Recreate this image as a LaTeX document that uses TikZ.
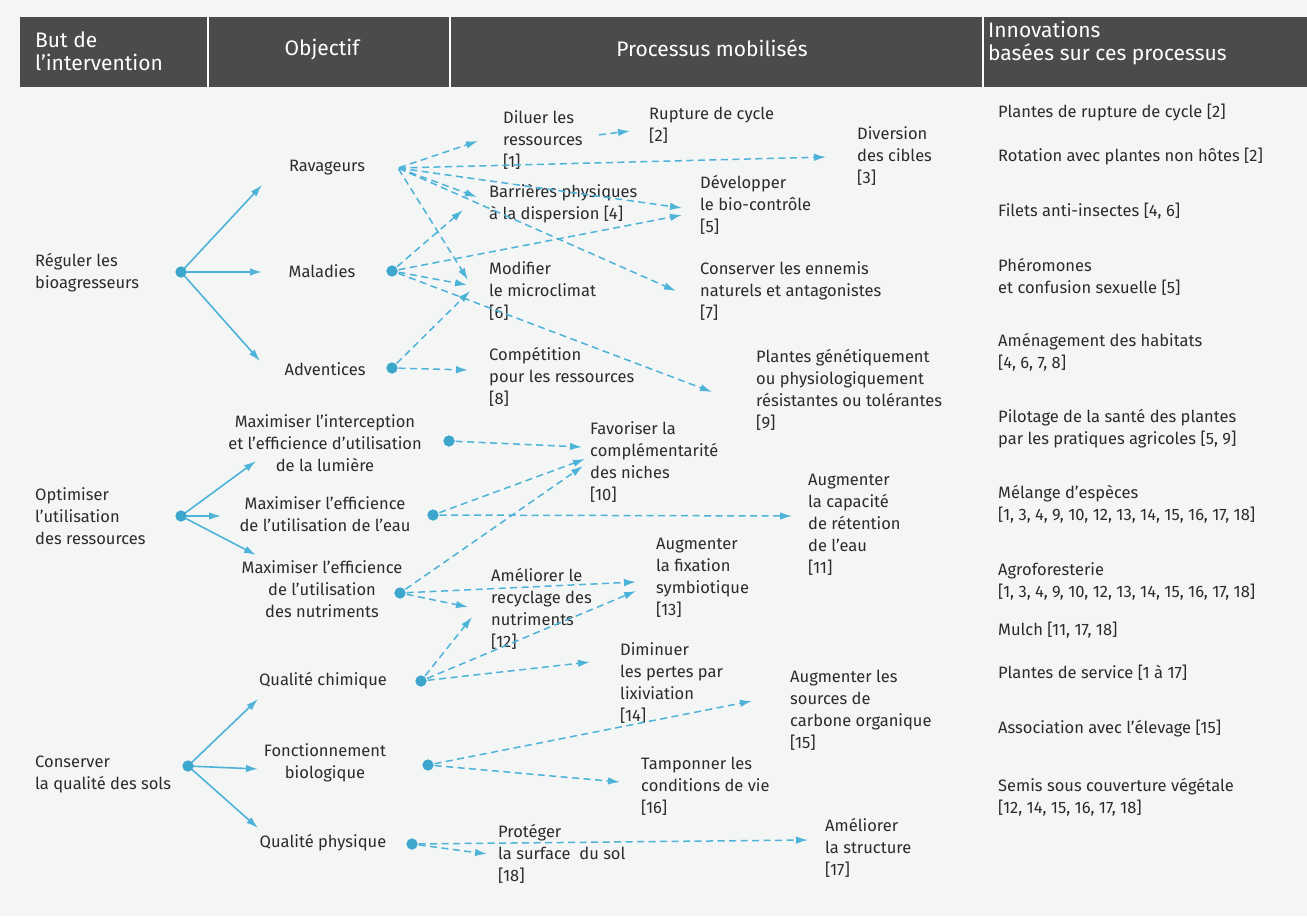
\documentclass[tikz,border=0pt]{standalone}
\usepackage{fontspec}
\setmainfont{Fira Sans}
\usetikzlibrary{arrows.meta}
\definecolor{paper}{HTML}{F4F5F5}
\definecolor{band}{HTML}{4B4B49}
\definecolor{ink}{HTML}{2B2B2B}
\definecolor{flow}{HTML}{4DB3D8}
\definecolor{hub}{HTML}{3CA6CC}
\tikzset{
  txt/.style={text=ink, inner sep=0pt, font=\fontsize{16.5}{22}\selectfont},
  lft/.style={txt, anchor=west, align=left},
  ctr/.style={txt, anchor=center, align=center},
  hd/.style={text=white, inner sep=0pt, font=\fontsize{21}{23}\selectfont},
  hub/.style={circle, fill=hub, minimum size=11pt, inner sep=0pt},
  sol/.style={draw=flow, line width=1.6pt, -{Latex[length=12pt,width=7.5pt]}},
  dsh/.style={draw=flow, line width=1.5pt, dash pattern=on 7pt off 4.5pt,
              -{Latex[length=12pt,width=7.5pt]}, shorten <=1pt},
}
\begin{document}
\begin{tikzpicture}[x=1pt,y=-1pt]
\useasboundingbox (0,0) rectangle (1307,916);
\fill[paper] (0,0) rectangle (1307,916);

% header band with column separators
\fill[band] (20,17) rectangle (1307,87);
\foreach \sx in {208,450,983} \fill[white] (\sx-1,17) rectangle (\sx+1,87);
\node[hd, anchor=west, align=left] (h1) at (35,51) {But de\\l’intervention};
\node[hd] (h2) at (322,50) {Objectif};
\node[hd] (h3) at (712,48) {Processus mobilisés};
\node[hd, anchor=west, align=left] (h4) at (988,43) {Innovations\\basées sur ces processus};

% column 1 : aims
\node[lft] (reg) at (35,273) {Réguler les\\bioagresseurs};
\node[lft] (opt) at (35,516) {Optimiser\\l’utilisation\\des ressources};
\node[lft] (cons) at (35,774) {Conserver\\la qualité des sols};

% column 2 : objectives
\node[ctr] (rav) at (327,168) {Ravageurs};
\node[ctr] (mal) at (322,271) {Maladies};
\node[ctr] (adv) at (325,369) {Adventices};
\node[ctr] (lum) at (325,443) {Maximiser l’interception\\et l’efficience d’utilisation\\de la lumière};
\node[ctr] (eau) at (325,514) {Maximiser l’efficience\\de l’utilisation de l’eau};
\node[ctr] (nut) at (322,589) {Maximiser l’efficience\\de l’utilisation\\des nutriments};
\node[ctr] (chim) at (323,681) {Qualité chimique};
\node[ctr] (bio) at (325,763) {Fonctionnement\\biologique};
\node[ctr] (phys) at (323,843) {Qualité physique};

% column 3 : processes
\node[lft] (dil) at (503,140) {Diluer les\\ressources\\{[1]}};
\node[lft] (rup) at (649,125) {Rupture de cycle\\{[2]}};
\node[lft] (div) at (857,156) {Diversion\\des cibles\\{[3]}};
\node[lft] (bar) at (489,204) {Barrières physiques\\à la dispersion [4]};
\node[lft] (dev) at (700,205) {Développer\\le bio-contrôle\\{[5]}};
\node[lft] (mod) at (489,291) {Modifier\\le microclimat\\{[6]}};
\node[lft] (ene) at (700,291) {Conserver les ennemis\\naturels et antagonistes\\{[7]}};
\node[lft] (comp) at (489,377) {Compétition\\pour les ressources\\{[8]}};
\node[lft] (pgen) at (756,390) {Plantes génétiquement\\ou physiologiquement\\résistantes ou tolérantes\\{[9]}};
\node[lft] (fav) at (590,462) {Favoriser la\\complémentarité\\des niches\\{[10]}};
\node[lft] (cap) at (808,525) {Augmenter\\la capacité\\de rétention\\de l’eau\\{[11]}};
\node[lft] (fix) at (656,578) {Augmenter\\la fixation\\symbiotique\\{[13]}};
\node[lft] (rec) at (491,609) {Améliorer le\\recyclage des\\nutriments\\{[12]}};
\node[lft] (dim) at (620,683) {Diminuer\\les pertes par\\lixiviation\\{[14]}};
\node[lft] (carb) at (790,710) {Augmenter les\\sources de\\carbone organique\\{[15]}};
\node[lft] (tamp) at (641,786) {Tamponner les\\conditions de vie\\{[16]}};
\node[lft] (prot) at (498,854) {Protéger\\la surface~ du sol\\{[18]}};
\node[lft] (struc) at (825,848) {Améliorer\\la structure\\{[17]}};

% column 4 : innovations
\node[lft] (i1) at (998,113) {Plantes de rupture de cycle [2]};
\node[lft] (i2) at (998,157) {Rotation avec plantes non hôtes [2]};
\node[lft] (i3) at (998,211) {Filets anti-insectes [4, 6]};
\node[lft] (i4) at (998,277) {Phéromones\\et confusion sexuelle [5]};
\node[lft] (i5) at (998,352) {Aménagement des habitats\\{[4, 6, 7, 8]}};
\node[lft] (i6) at (998,429) {Pilotage de la santé des plantes\\par les pratiques agricoles [5, 9]};
\node[lft] (i7) at (998,504) {Mélange d’espèces\\{[1, 3, 4, 9, 10, 12, 13, 14, 15, 16, 17, 18]}};
\node[lft] (i8) at (998,581) {Agroforesterie\\{[1, 3, 4, 9, 10, 12, 13, 14, 15, 16, 17, 18]}};
\node[lft] (i9) at (998,630) {Mulch [11, 17, 18]};
\node[lft] (i10) at (998,673) {Plantes de service [1 à 17]};
\node[lft] (i11) at (998,729) {Association avec l’élevage [15]};
\node[lft] (i12) at (998,797) {Semis sous couverture végétale\\{[12, 14, 15, 16, 17, 18]}};

% branching points
\node[hub] (hreg) at (181,272) {};
\node[hub] (hopt) at (181,516) {};
\node[hub] (hcons) at (188,766) {};
\coordinate (hrav) at (398,168);
\node[hub] (hmal) at (392,271) {};
\node[hub] (hadv) at (392,368) {};
\node[hub] (hlum) at (449,441) {};
\node[hub] (heau) at (433,515) {};
\node[hub] (hnut) at (400,593) {};
\node[hub] (hchim) at (421,681) {};
\node[hub] (hbio) at (428,765) {};
\node[hub] (hphys) at (412,844) {};

% arrow ends next to each objective / process
\coordinate (rav-in) at (262,185);
\coordinate (mal-in) at (262,272);
\coordinate (adv-in) at (260,361);
\coordinate (lum-in) at (256,461);
\coordinate (eau-in) at (221,516);
\coordinate (nut-in) at (256,555);
\coordinate (chim-in) at (258,699);
\coordinate (bio-in) at (258,769);
\coordinate (phys-in) at (258,828);

\coordinate (dil-in) at (478,141);
\coordinate (dil-out) at (598,135);
\coordinate (rup-in) at (630,131);
\coordinate (div-in) at (826,157);
\coordinate (bar-in1) at (477,197);
\coordinate (bar-in2) at (463,210);
\coordinate (dev-in1) at (682,208);
\coordinate (dev-in2) at (682,215);
\coordinate (mod-in1) at (468,280);
\coordinate (mod-in2) at (467,285);
\coordinate (mod-in3) at (470,291);
\coordinate (ene-in) at (676,291);
\coordinate (comp-in) at (468,370);
\coordinate (pgen-in) at (712,392);
\coordinate (fav-in1) at (582,447);
\coordinate (fav-in2) at (585,459);
\coordinate (fav-in3) at (583,466);
\coordinate (cap-in) at (792,516);
\coordinate (fix-in1) at (636,582);
\coordinate (fix-in2) at (636,591);
\coordinate (rec-in1) at (468,607);
\coordinate (rec-in2) at (472,617);
\coordinate (dim-in) at (590,662);
\coordinate (carb-in) at (752,701);
\coordinate (tamp-in) at (620,782);
\coordinate (struc-in) at (808,840);
\coordinate (prot-in) at (487,854);

% solid branches
\foreach \t in {rav,mal,adv} \draw[sol] (hreg.center) -- (\t-in);
\foreach \t in {lum,eau,nut} \draw[sol] (hopt.center) -- (\t-in);
\foreach \t in {chim,bio,phys} \draw[sol] (hcons.center) -- (\t-in);

% dashed links : pests
\foreach \t in {dil-in,div-in,bar-in1,dev-in1,ene-in,mod-in1} \draw[dsh] (hrav) -- (\t);
\draw[dsh] (dil-out) -- (rup-in);
\foreach \t in {bar-in2,dev-in2,mod-in2,pgen-in} \draw[dsh] (hmal) -- (\t);
\foreach \t in {mod-in3,comp-in} \draw[dsh] (hadv) -- (\t);

% dashed links : resources
\draw[dsh] (hlum) -- (fav-in1);
\draw[dsh] (heau) -- (fav-in2);
\draw[dsh] (heau) -- (cap-in);
\foreach \t in {fav-in3,fix-in1,rec-in1} \draw[dsh] (hnut) -- (\t);

% dashed links : soils
\foreach \t in {rec-in2,fix-in2,dim-in} \draw[dsh] (hchim) -- (\t);
\foreach \t in {carb-in,tamp-in} \draw[dsh] (hbio) -- (\t);
\foreach \t in {struc-in,prot-in} \draw[dsh] (hphys) -- (\t);

% hubs on top of their branches
\foreach \h in {hreg,hopt,hcons,hmal,hadv,hlum,heau,hnut,hchim,hbio,hphys}
  \fill[hub] (\h.center) circle (5.5pt);
\end{tikzpicture}
\end{document}
